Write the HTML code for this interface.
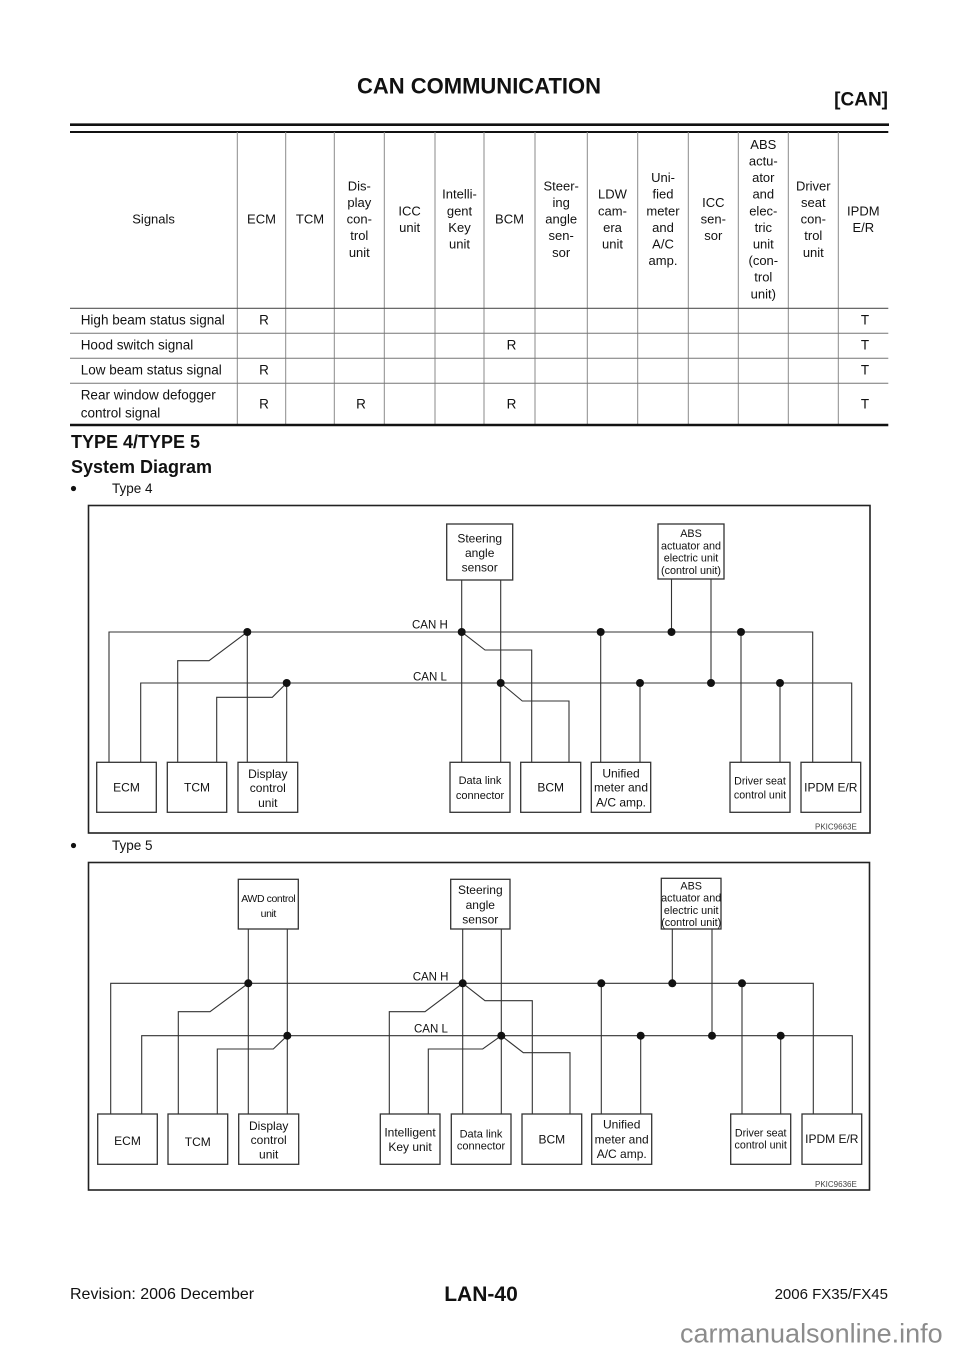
<!DOCTYPE html>
<html>
<head>
<meta charset="utf-8">
<style>
  html,body{margin:0;padding:0;background:#fff;}
  svg{display:block;}
  text{font-family:"Liberation Sans",Arial,sans-serif;fill:#111;}
</style>
</head>
<body>
<svg width="960" height="1358" viewBox="0 0 960 1358" xmlns="http://www.w3.org/2000/svg">
  <rect x="0" y="0" width="960" height="1358" fill="#fff"/>

  <!-- Header -->
  <text x="479" y="93.6" font-size="22" font-weight="bold" text-anchor="middle">CAN COMMUNICATION</text>
  <text x="888" y="105.5" font-size="19" font-weight="bold" text-anchor="end">[CAN]</text>
  <line x1="70" y1="124.7" x2="889" y2="124.7" stroke="#111" stroke-width="2.7"/>
  <line x1="70" y1="132" x2="888.3" y2="132" stroke="#111" stroke-width="2"/>

  <!-- Table grid -->
  <g stroke="#8a8a8a" stroke-width="1">
    <line x1="237.3" y1="132" x2="237.3" y2="425"/>
    <line x1="285.7" y1="132" x2="285.7" y2="425"/>
    <line x1="334.3" y1="132" x2="334.3" y2="425"/>
    <line x1="384.3" y1="132" x2="384.3" y2="425"/>
    <line x1="435" y1="132" x2="435" y2="425"/>
    <line x1="484" y1="132" x2="484" y2="425"/>
    <line x1="535" y1="132" x2="535" y2="425"/>
    <line x1="587.3" y1="132" x2="587.3" y2="425"/>
    <line x1="637.7" y1="132" x2="637.7" y2="425"/>
    <line x1="688.3" y1="132" x2="688.3" y2="425"/>
    <line x1="738.3" y1="132" x2="738.3" y2="425"/>
    <line x1="788.3" y1="132" x2="788.3" y2="425"/>
    <line x1="838.3" y1="132" x2="838.3" y2="425"/>
  </g>
  <line x1="70" y1="308.3" x2="888.3" y2="308.3" stroke="#555" stroke-width="1.2"/>
  <g stroke="#777" stroke-width="1">
    <line x1="70" y1="333.3" x2="888.3" y2="333.3"/>
    <line x1="70" y1="358.3" x2="888.3" y2="358.3"/>
    <line x1="70" y1="383.3" x2="888.3" y2="383.3"/>
  </g>
  <line x1="70" y1="425" x2="888.3" y2="425" stroke="#111" stroke-width="2.6"/>

  <!-- Table header text -->
  <g font-size="13" text-anchor="middle">
    <text x="153.6" y="223.6">Signals</text>
    <text x="261.5" y="223.6">ECM</text>
    <text x="310" y="223.6">TCM</text>
    <text x="359.3" y="190.4">Dis-<tspan x="359.3" dy="16.6">play</tspan><tspan x="359.3" dy="16.6">con-</tspan><tspan x="359.3" dy="16.6">trol</tspan><tspan x="359.3" dy="16.6">unit</tspan></text>
    <text x="409.6" y="215.3">ICC<tspan x="409.6" dy="16.6">unit</tspan></text>
    <text x="459.5" y="198.7">Intelli-<tspan x="459.5" dy="16.6">gent</tspan><tspan x="459.5" dy="16.6">Key</tspan><tspan x="459.5" dy="16.6">unit</tspan></text>
    <text x="509.5" y="223.6">BCM</text>
    <text x="561.2" y="190.4">Steer-<tspan x="561.2" dy="16.6">ing</tspan><tspan x="561.2" dy="16.6">angle</tspan><tspan x="561.2" dy="16.6">sen-</tspan><tspan x="561.2" dy="16.6">sor</tspan></text>
    <text x="612.5" y="198.7">LDW<tspan x="612.5" dy="16.6">cam-</tspan><tspan x="612.5" dy="16.6">era</tspan><tspan x="612.5" dy="16.6">unit</tspan></text>
    <text x="663" y="182.1">Uni-<tspan x="663" dy="16.6">fied</tspan><tspan x="663" dy="16.6">meter</tspan><tspan x="663" dy="16.6">and</tspan><tspan x="663" dy="16.6">A/C</tspan><tspan x="663" dy="16.6">amp.</tspan></text>
    <text x="713.3" y="207">ICC<tspan x="713.3" dy="16.6">sen-</tspan><tspan x="713.3" dy="16.6">sor</tspan></text>
    <text x="763.3" y="148.9">ABS<tspan x="763.3" dy="16.6">actu-</tspan><tspan x="763.3" dy="16.6">ator</tspan><tspan x="763.3" dy="16.6">and</tspan><tspan x="763.3" dy="16.6">elec-</tspan><tspan x="763.3" dy="16.6">tric</tspan><tspan x="763.3" dy="16.6">unit</tspan><tspan x="763.3" dy="16.6">(con-</tspan><tspan x="763.3" dy="16.6">trol</tspan><tspan x="763.3" dy="16.6">unit)</tspan></text>
    <text x="813.3" y="190.4">Driver<tspan x="813.3" dy="16.6">seat</tspan><tspan x="813.3" dy="16.6">con-</tspan><tspan x="813.3" dy="16.6">trol</tspan><tspan x="813.3" dy="16.6">unit</tspan></text>
    <text x="863.3" y="215.3">IPDM<tspan x="863.3" dy="16.6">E/R</tspan></text>
  </g>

  <!-- Table body -->
  <g font-size="13.5">
    <text x="80.7" y="324.7">High beam status signal</text>
    <text x="80.7" y="349.5">Hood switch signal</text>
    <text x="80.7" y="374.3">Low beam status signal</text>
    <text x="80.7" y="399.7">Rear window defogger</text>
    <text x="80.7" y="417.4">control signal</text>
  </g>
  <g font-size="13.5" text-anchor="middle">
    <text x="264" y="324.7">R</text>
    <text x="865" y="324.7">T</text>
    <text x="511.5" y="349.5">R</text>
    <text x="865" y="349.5">T</text>
    <text x="264" y="374.3">R</text>
    <text x="865" y="374.3">T</text>
    <text x="264" y="408.3">R</text>
    <text x="361" y="408.3">R</text>
    <text x="511.5" y="408.3">R</text>
    <text x="865" y="408.3">T</text>
  </g>

  <!-- Section titles -->
  <text x="71" y="448" font-size="18" font-weight="bold">TYPE 4/TYPE 5</text>
  <text x="71" y="473" font-size="18" font-weight="bold">System Diagram</text>
  <circle cx="73.5" cy="488.5" r="2.6" fill="#111"/>
  <text x="112" y="493" font-size="13.5">Type 4</text>
  <circle cx="73.5" cy="845.5" r="2.6" fill="#111"/>
  <text x="112" y="850" font-size="13.5">Type 5</text>

  <!-- ================= TYPE 4 DIAGRAM ================= -->
  <rect x="88.5" y="505.5" width="781.5" height="327.5" fill="none" stroke="#222" stroke-width="1.6"/>

  <g fill="none" stroke="#333" stroke-width="1.1">
    <polyline points="109,762.3 109,632 812.7,632 812.7,762.3"/>
    <polyline points="140.7,762.3 140.7,683 851.7,683 851.7,762.3"/>
    <polyline points="177.7,762.3 177.7,660.7 209,660.7 247.3,632"/>
    <polyline points="216.7,762.3 216.7,697.3 272.3,697.3 286.7,683"/>
    <line x1="247.3" y1="632" x2="247.3" y2="762.3"/>
    <line x1="286.7" y1="683" x2="286.7" y2="762.3"/>
    <line x1="461.7" y1="580" x2="461.7" y2="762.3"/>
    <line x1="500.7" y1="580" x2="500.7" y2="762.3"/>
    <polyline points="461.7,632 485,650 531.7,650 531.7,762.3"/>
    <polyline points="500.7,683 522.3,701 569,701 569,762.3"/>
    <line x1="600.7" y1="632" x2="600.7" y2="762.3"/>
    <line x1="640" y1="683" x2="640" y2="762.3"/>
    <line x1="671.5" y1="579" x2="671.5" y2="632"/>
    <line x1="711" y1="579" x2="711" y2="683"/>
    <line x1="741" y1="632" x2="741" y2="762.3"/>
    <line x1="780" y1="683" x2="780" y2="762.3"/>
  </g>
  <g fill="#111">
    <circle cx="247.3" cy="632" r="4"/>
    <circle cx="461.7" cy="632" r="4"/>
    <circle cx="600.7" cy="632" r="4"/>
    <circle cx="671.5" cy="632" r="4"/>
    <circle cx="741" cy="632" r="4"/>
    <circle cx="286.7" cy="683" r="4"/>
    <circle cx="500.7" cy="683" r="4"/>
    <circle cx="640" cy="683" r="4"/>
    <circle cx="711" cy="683" r="4"/>
    <circle cx="780" cy="683" r="4"/>
  </g>

  <g fill="#fff" stroke="#333" stroke-width="1.3">
    <rect x="446.7" y="524" width="66" height="56"/>
    <rect x="658" y="524" width="66" height="55"/>
    <rect x="96.7" y="762.3" width="59.6" height="50"/>
    <rect x="167.3" y="762.3" width="59.4" height="50"/>
    <rect x="238" y="762.3" width="59.7" height="50"/>
    <rect x="450" y="762.3" width="60" height="50"/>
    <rect x="520.7" y="762.3" width="60" height="50"/>
    <rect x="591.3" y="762.3" width="59.4" height="50"/>
    <rect x="730" y="762.3" width="60" height="50"/>
    <rect x="801" y="762.3" width="59.7" height="50"/>
  </g>

  <g text-anchor="middle" font-size="12">
    <text x="479.7" y="542.5">Steering</text>
    <text x="479.7" y="557">angle</text>
    <text x="479.7" y="571.5">sensor</text>
    <text x="126.5" y="791.5">ECM</text>
    <text x="197" y="791.5">TCM</text>
    <text x="267.8" y="778.2">Display</text>
    <text x="267.8" y="792.2">control</text>
    <text x="267.8" y="806.9">unit</text>
    <text x="550.7" y="791.5">BCM</text>
    <text x="621" y="777.5">Unified</text>
    <text x="621" y="791.5">meter and</text>
    <text x="621" y="806.5">A/C amp.</text>
    <text x="830.8" y="791.5">IPDM E/R</text>
  </g>
  <g text-anchor="middle" font-size="10.8">
    <text x="691" y="537.1">ABS</text>
    <text x="691" y="549.5">actuator and</text>
    <text x="691" y="561.5">electric unit</text>
    <text x="691" y="573.8">(control unit)</text>
  </g>
  <g text-anchor="middle" font-size="11">
    <text x="480" y="783.8">Data link</text>
    <text x="480" y="798.8">connector</text>
  </g>
  <g text-anchor="middle" font-size="10.7">
    <text x="760" y="784.4">Driver seat</text>
    <text x="760" y="798.7">control unit</text>
  </g>
  <text x="412" y="628.3" font-size="11.5">CAN H</text>
  <text x="413" y="680.7" font-size="11.5">CAN L</text>
  <text x="815" y="829.5" font-size="8" fill="#444" style="fill:#444">PKIC9663E</text>

  <!-- ================= TYPE 5 DIAGRAM ================= -->
  <rect x="88.5" y="862.5" width="781" height="327.5" fill="none" stroke="#222" stroke-width="1.6"/>

  <g fill="none" stroke="#333" stroke-width="1.1">
    <polyline points="110.7,1114 110.7,983.3 813.3,983.3 813.3,1114"/>
    <polyline points="141.7,1114 141.7,1035.7 852.3,1035.7 852.3,1114"/>
    <line x1="248.3" y1="929" x2="248.3" y2="1114"/>
    <line x1="287.3" y1="929" x2="287.3" y2="1114"/>
    <polyline points="178.3,1114 178.3,1011.7 210,1011.7 248.3,983.3"/>
    <polyline points="217.3,1114 217.3,1049 273.3,1049 287.3,1035.7"/>
    <polyline points="389.3,1114 389.3,1011.7 425,1011.7 462.7,983.3"/>
    <polyline points="428.3,1114 428.3,1049 482.7,1049 501.3,1035.7"/>
    <line x1="462.7" y1="929" x2="462.7" y2="1114"/>
    <line x1="501.3" y1="929" x2="501.3" y2="1114"/>
    <polyline points="462.7,983.3 485,1000.7 532.3,1000.7 532.3,1114"/>
    <polyline points="501.3,1035.7 523.3,1052.7 570,1052.7 570,1114"/>
    <line x1="601.3" y1="983.3" x2="601.3" y2="1114"/>
    <line x1="640.7" y1="1035.7" x2="640.7" y2="1114"/>
    <line x1="672.3" y1="929" x2="672.3" y2="983.3"/>
    <line x1="712" y1="929" x2="712" y2="1035.7"/>
    <line x1="742" y1="983.3" x2="742" y2="1114"/>
    <line x1="780.7" y1="1035.7" x2="780.7" y2="1114"/>
  </g>
  <g fill="#111">
    <circle cx="248.3" cy="983.3" r="4"/>
    <circle cx="462.7" cy="983.3" r="4"/>
    <circle cx="601.3" cy="983.3" r="4"/>
    <circle cx="672.3" cy="983.3" r="4"/>
    <circle cx="742" cy="983.3" r="4"/>
    <circle cx="287.3" cy="1035.7" r="4"/>
    <circle cx="501.3" cy="1035.7" r="4"/>
    <circle cx="640.7" cy="1035.7" r="4"/>
    <circle cx="712" cy="1035.7" r="4"/>
    <circle cx="780.7" cy="1035.7" r="4"/>
  </g>

  <g fill="#fff" stroke="#333" stroke-width="1.3">
    <rect x="238.3" y="879.3" width="60" height="49.7"/>
    <rect x="450.7" y="879.3" width="59.3" height="49.7"/>
    <rect x="661.3" y="878.3" width="59.7" height="50.7"/>
    <rect x="97.7" y="1114" width="59.6" height="50.3"/>
    <rect x="168" y="1114" width="59.7" height="50.3"/>
    <rect x="238.7" y="1114" width="60" height="50.3"/>
    <rect x="380.3" y="1114" width="59.7" height="50.3"/>
    <rect x="451.3" y="1114" width="59.7" height="50.3"/>
    <rect x="522" y="1114" width="59.7" height="50.3"/>
    <rect x="591.7" y="1114" width="60" height="50.3"/>
    <rect x="730.7" y="1114" width="60" height="50.3"/>
    <rect x="802" y="1114" width="59.7" height="50.3"/>
  </g>

  <g text-anchor="middle" font-size="10.5" letter-spacing="-0.4">
    <text x="268.3" y="902">AWD control</text>
    <text x="268.3" y="917">unit</text>
  </g>
  <g text-anchor="middle" font-size="12">
    <text x="480.3" y="894.2">Steering</text>
    <text x="480.3" y="909.2">angle</text>
    <text x="480.3" y="923.5">sensor</text>
    <text x="127.5" y="1144.9">ECM</text>
    <text x="197.8" y="1145.9">TCM</text>
    <text x="268.7" y="1129.9">Display</text>
    <text x="268.7" y="1144.2">control</text>
    <text x="268.7" y="1158.5">unit</text>
    <text x="410" y="1136.5">Intelligent</text>
    <text x="410" y="1150.9">Key unit</text>
    <text x="551.8" y="1143.5">BCM</text>
    <text x="621.7" y="1128.5">Unified</text>
    <text x="621.7" y="1143.5">meter and</text>
    <text x="621.7" y="1158.2">A/C amp.</text>
    <text x="831.8" y="1143.2">IPDM E/R</text>
  </g>
  <g text-anchor="middle" font-size="10.8">
    <text x="691.2" y="889.5">ABS</text>
    <text x="691.2" y="901.5">actuator and</text>
    <text x="691.2" y="913.8">electric unit</text>
    <text x="691.2" y="926.1">(control unit)</text>
  </g>
  <g text-anchor="middle" font-size="11">
    <text x="481" y="1137.5">Data link</text>
    <text x="481" y="1149.5">connector</text>
  </g>
  <g text-anchor="middle" font-size="10.7">
    <text x="760.7" y="1136.7">Driver seat</text>
    <text x="760.7" y="1148.7">control unit</text>
  </g>
  <text x="412.7" y="980.7" font-size="11.5">CAN H</text>
  <text x="414" y="1032.3" font-size="11.5">CAN L</text>
  <text x="815" y="1187" font-size="8" style="fill:#444">PKIC9636E</text>

  <!-- Footer -->
  <text x="70" y="1299" font-size="16">Revision: 2006 December</text>
  <text x="481" y="1301" font-size="21" font-weight="bold" text-anchor="middle">LAN-40</text>
  <text x="888" y="1299" font-size="15" text-anchor="end">2006 FX35/FX45</text>
  <text x="680" y="1342.7" font-size="27" style="fill:#8c8c8c">carmanualsonline.info</text>
</svg>
</body>
</html>
